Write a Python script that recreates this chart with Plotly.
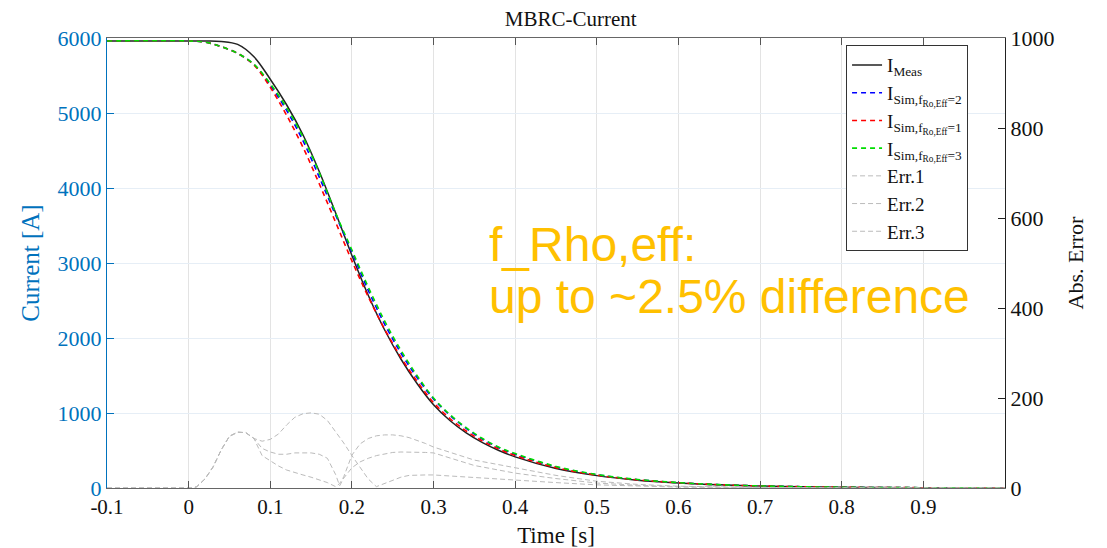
import plotly.graph_objects as go

# ---------------- data ----------------
t_cur = [-0.1, 0.0, 0.02, 0.04, 0.06, 0.08, 0.10, 0.12, 0.14, 0.16, 0.18, 0.20, 0.22, 0.24,
         0.26, 0.28, 0.30, 0.32, 0.34, 0.36, 0.38, 0.40, 0.45, 0.50, 0.55, 0.60, 0.65,
         0.70, 0.75, 0.80, 0.85, 0.90, 0.95, 1.00]
i_meas = [5960, 5960, 5960, 5955, 5915, 5750, 5450, 5110, 4710, 4220, 3670, 3100, 2570, 2110,
          1720, 1390, 1110, 900, 735, 605, 500, 415, 260, 165, 105, 68, 43,
          27, 17, 10, 6, 4, 2, 1]
i_sim2 = [5960, 5960, 5945, 5885, 5795, 5645, 5370, 5035, 4632, 4145, 3640, 3145, 2636, 2186,
          1800, 1470, 1188, 970, 795, 650, 537, 448, 281, 176, 111, 71, 44,
          28, 17, 10, 6, 4, 2, 1]
i_sim1 = [5960, 5960, 5945, 5885, 5795, 5640, 5342, 4970, 4545, 4056, 3545, 3028, 2550, 2120,
          1744, 1419, 1139, 927, 760, 627, 519, 433, 272, 172, 109, 70, 44,
          27, 17, 10, 6, 4, 2, 1]
i_sim3 = [5960, 5960, 5945, 5885, 5795, 5650, 5390, 5070, 4681, 4202, 3667, 3173, 2680, 2228,
          1836, 1496, 1201, 980, 805, 660, 545, 460, 288, 180, 113, 72, 45,
          28, 17, 10, 6, 4, 2, 1]

t_err = [-0.1, 0.0, 0.005, 0.01, 0.02, 0.03, 0.04, 0.05, 0.06, 0.07, 0.08, 0.09, 0.10, 0.11,
         0.12, 0.13, 0.14, 0.15, 0.16, 0.17, 0.18, 0.185, 0.19, 0.20, 0.21, 0.22, 0.23,
         0.24, 0.25, 0.26, 0.27, 0.28, 0.29, 0.30, 0.35, 0.40, 0.45, 0.50, 0.55, 0.60,
         0.70, 0.80, 0.90, 1.00]
err1 = [0, 0, 0, 3, 20, 47, 85, 115, 124, 123, 110, 104, 108, 120,
        140, 157, 165, 167, 164, 150, 125, 112, 100, 72, 45, 20, 3,
        10, 18, 24, 28, 29, 29, 29, 23, 18, 12, 7, 4, 2,
        0.5, 0, 0, 0]
err2 = [0, 0, 0, 3, 20, 47, 85, 115, 124, 123, 110, 88, 80, 75,
        75, 78, 78, 78, 75, 66, 30, 5, 22, 45, 58, 66, 72,
        76, 79, 80, 80, 80, 79, 78, 50, 33, 21, 11, 6, 3,
        1, 0, 0, 0]
err3 = [0, 0, 0, 3, 20, 47, 85, 115, 124, 123, 110, 72, 60, 49,
        40, 34, 29, 24, 18, 12, 3, 10, 25, 73, 98, 110, 116,
        118, 118, 116, 112, 106, 99, 91, 62, 45, 28, 15, 8, 4,
        1, 0, 0, 0]

x_ticks = [-0.1, 0, 0.1, 0.2, 0.3, 0.4, 0.5, 0.6, 0.7, 0.8, 0.9]
x_ticklabels = ["-0.1", "0", "0.1", "0.2", "0.3", "0.4", "0.5", "0.6", "0.7", "0.8", "0.9"]
y_ticks = [0, 1000, 2000, 3000, 4000, 5000, 6000]
y2_ticks = [0, 200, 400, 600, 800, 1000]

# ---------------- figure ----------------
SERIF = "Liberation Serif, Times New Roman, serif"
BLUE = "#0072BD"

fig = go.Figure()
fig.add_trace(go.Scatter(x=t_cur, y=i_meas, mode="lines", line=dict(color="#222222", width=1.5, shape="spline"),
                         name="I<sub>Meas</sub>"))
fig.add_trace(go.Scatter(x=t_cur, y=i_sim2, mode="lines", line=dict(color="#0000FF", width=1.6, dash="5px,4px", shape="spline"),
                         name="I<sub>Sim,f<sub>Ro,Eff</sub>=2</sub>"))
fig.add_trace(go.Scatter(x=t_cur, y=i_sim1, mode="lines", line=dict(color="#FF0000", width=1.6, dash="5px,4px", shape="spline"),
                         name="I<sub>Sim,f<sub>Ro,Eff</sub>=1</sub>"))
fig.add_trace(go.Scatter(x=t_cur, y=i_sim3, mode="lines", line=dict(color="#00DD00", width=1.6, dash="5px,4px", shape="spline"),
                         name="I<sub>Sim,f<sub>Ro,Eff</sub>=3</sub>"))
for name, e in [("Err.1", err1), ("Err.2", err2), ("Err.3", err3)]:
    fig.add_trace(go.Scatter(x=t_err, y=e, mode="lines", yaxis="y2",
                             line=dict(color="#BBBBBB", width=1, dash="5px,3px"), name=name))

ANN_FONT = dict(family="Liberation Sans, Arial, sans-serif", size=48, color="#FFC000")
fig.add_annotation(text="f_Rho,eff:", x=0.423, y=0.54, xref="paper", yref="paper",
                   xanchor="left", yanchor="middle", showarrow=False, font=ANN_FONT)
fig.add_annotation(text="up to ~2.5% difference", x=0.423, y=0.426, xref="paper", yref="paper",
                   xanchor="left", yanchor="middle", showarrow=False, font=ANN_FONT)

# page body has an 8px margin: figure is 8px smaller and margins shifted accordingly
fig.update_layout(
    width=1099, height=540,
    margin=dict(l=99, r=102, t=30, b=60),
    paper_bgcolor="white", plot_bgcolor="white",
    title=dict(text="MBRC-Current", x=0.512, xanchor="center", y=0.981, yanchor="middle",
               font=dict(family=SERIF, size=21, color="#111111")),
    font=dict(family=SERIF, color="#111111"),
    showlegend=True,
    legend=dict(x=0.823, y=0.984, xanchor="left", yanchor="top", bgcolor="white",
                bordercolor="#333333", borderwidth=1, font=dict(family=SERIF, size=19, color="#111111"),
                tracegroupgap=0, itemwidth=30),
    xaxis=dict(range=[-0.1, 1.0], tickvals=x_ticks, ticktext=x_ticklabels, ticks="inside", ticklen=7,
               tickcolor="#555555", showline=True, linecolor="#666666", linewidth=1, mirror="ticks",
               showgrid=True, gridcolor="#E3E3E3", gridwidth=1, zeroline=False, automargin=False,
               tickfont=dict(family=SERIF, size=21, color="#111111"),
               title=dict(text="Time [s]", font=dict(family=SERIF, size=23, color="#111111"), standoff=8)),
    yaxis=dict(range=[0, 6000], tickvals=y_ticks, ticks="inside", ticklen=7, tickcolor=BLUE,
               showline=True, linecolor=BLUE, linewidth=1, showgrid=True, gridcolor="#E6EEF6",
               zeroline=False, automargin=False, tickfont=dict(family=SERIF, size=22, color=BLUE),
               title=dict(text="Current [A]", font=dict(family=SERIF, size=25, color=BLUE), standoff=10)),
    yaxis2=dict(range=[0, 1000], tickvals=y2_ticks, overlaying="y", side="right", ticks="inside",
                ticklen=7, tickcolor="#222222", showline=True, linecolor="#222222", linewidth=1,
                showgrid=False, zeroline=False, automargin=False,
                tickfont=dict(family=SERIF, size=22, color="#111111"),
                title=dict(text="Abs. Error", font=dict(family=SERIF, size=22, color="#111111"), standoff=14)),
)

fig.write_html("out.html")
